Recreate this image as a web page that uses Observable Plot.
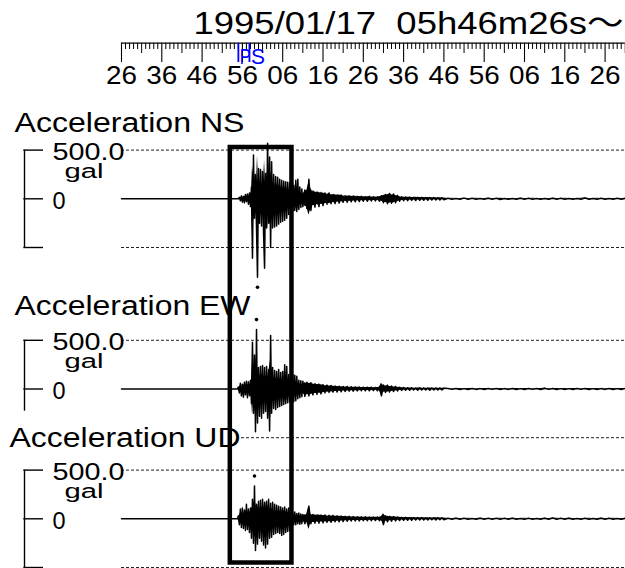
<!DOCTYPE html>
<html>
<head>
<meta charset="utf-8">
<script src="https://cdn.jsdelivr.net/npm/d3@7"></script>
<script src="https://cdn.jsdelivr.net/npm/@observablehq/plot@0.6"></script>
<style>
html, body { margin: 0; padding: 0; background: #fff; }
#chart svg text { white-space: pre; }
</style>
</head>
<body>
<div id="chart"></div>
<script>
// ---------------- data ----------------
const title = "1995/01/17  05h46m26s〜";
const channels = ["NS", "EW", "UD"];
const channelLabels = ["Acceleration NS", "Acceleration EW", "Acceleration UD"];
const scaleLabel = "500.0";
const unitLabel = "gal";
const zeroLabel = "0";
const fullScale = 500;              // gal, dotted reference lines
const duration = 125;               // seconds shown
const tickTimes = [0, 10, 20, 30, 40, 50, 60, 70, 80, 90, 100, 110, 120];
const tickLabels = ["26", "36", "46", "56", "06", "16", "26", "36", "46", "56", "06", "16", "26"];
const phaseTimes = [29.0, 31.75];
const phaseLabels = ["P", "S"];
const windowStart = 27.0, windowEnd = 42.3;

// waveform samples (gal): strong part from 28 s every 0.25 s,
// coda from 45.5 s every 0.5 s, tail from 81 s every 1 s
const strongStart = 28, strongStep = 0.25;
const codaStart = 45.5, codaStep = 0.5;
const tailStart = 81, tailStep = 1;

const nsStrong = [0,0,0,0,0,15,-20,30,-35,25,-40,45,-30,50,-55,60,-80,120,-610,450,-200,250,-300,-806,310,-250,300,-280,280,-350,-714,260,-300,570,-250,430,-500,380,-300,250,-290,230,-280,220,-260,200,-240,190,-230,180,-220,175,-200,170,-160,165,-140,150,-130,140,-120,190,-130,200,-110,120,-90,100,-80];
const nsCoda = [90,-100,200,-120,80,-85,70,-80,65,-70,60,-55,60,-50,45,-50,40,-45,40,-35,30,-35,30,-30,28,-30,25,-28,25,-25,22,-25,25,-22,20,-22,20,-25,30,-40,45,-50,55,-45,50,-40,35,-25,20,-20,18,-20,18,-15,15,-18,15,-15,15,-15,12,-15,12,-12,12,-12,10,-12,10,-10];
const nsTail = [5,-6,4,-5,7,-4,5,-6,4,-5,6,-4,5,-7,4,-5,4,-5,6,-4,5,-6,4,-5,4,-5,6,-4,5,-6,4,-5,4,-6,9,-5,4,-6,5,-4,4,-5,5,-4,5];

const ewStrong = [0,0,0,0,20,-40,60,-70,50,-85,70,-60,80,-90,75,-70,90,-150,480,-250,350,-440,610,-350,220,-280,230,-300,240,-250,220,-230,230,-300,200,-430,550,-250,220,-200,190,-210,180,-190,200,-180,170,-170,180,-160,250,-150,230,-140,150,-130,140,-140,150,-130,140,-120,130,-100,90,-90,85,-80,80];
const ewCoda = [-75,70,-70,65,-60,55,-55,50,-50,45,-40,40,-35,35,-32,30,-30,28,-28,25,-25,25,-22,22,-22,20,-20,20,-18,18,-18,18,-18,18,-16,16,-18,20,-70,40,-35,40,-30,30,-25,25,-20,18,-15,15,-12,12,-12,12,-10,10,-12,12,-10,10,-10,10,-12,10,-10,10,-10,9,-10,9];
const ewTail = [5,-4,6,-5,4,-6,5,-4,4,-6,5,-4,6,-5,4,-4,5,-6,4,-5,6,-4,5,-6,8,-4,5,-6,4,-5,4,-5,6,-4,5,-6,4,-5,4,-4,6,-5,4,-6,5];

const udStrong = [0,0,0,0,30,-60,100,-90,110,-100,90,-120,150,-110,100,-140,110,-200,200,-250,337,-326,150,-260,180,-200,190,-230,200,-270,170,-300,180,-260,200,-200,160,-190,170,-160,150,-150,140,-140,130,-150,120,-170,110,-160,120,-140,100,-130,110,-120,80,-70,60,-60,70,-60,55,-50,60,-55,50,-50,45];
const udCoda = [-50,45,130,-50,45,-45,40,-45,40,-40,40,-35,35,-35,35,-30,30,-30,28,-28,25,-25,25,-22,22,-22,20,-22,20,-20,20,-20,18,-20,18,-18,18,-20,25,-60,30,-30,25,-25,22,-22,18,-18,15,-15,15,-15,12,-15,12,-12,12,-12,12,-12,10,-12,10,-10,10,-12,10,-10,9,-10];
const udTail = [5,-5,6,-4,5,-6,4,-5,6,-4,5,-4,5,-6,5,-4,6,-5,4,-6,5,-4,4,-5,6,-4,8,-6,5,-4,6,-5,4,-4,5,-6,4,-5,6,-4,5,-6,4,-5,5];

const waveParts = {
  NS: [nsStrong, nsCoda, nsTail],
  EW: [ewStrong, ewCoda, ewTail],
  UD: [udStrong, udCoda, udTail]
};

// ---------------- layout ----------------
const W = 625, H = 568;
const x0px = 121, pxPerSec = 4.03;
const galPerPx = 500 / 48.7;
const basePx = { NS: 198.3, EW: 388.5, UD: 518.3 };
const labelBase = { NS: 131.7, EW: 314.3, UD: 446.7 };
const labelLeft = { NS: 14, EW: 14, UD: 9 };
const labelWidth = { NS: 230, EW: 236, UD: 231 };
const tx = px => (px - x0px) / pxPerSec;   // pixel -> time
const gy = px => -px * galPerPx;            // pixel -> y value
const yv = (ch, v) => gy(basePx[ch]) + v;   // channel value -> y value
const bandShare = [0.55, 0.85, 0.85];       // share of each swing drawn as solid band, per part

function series(ch) {
  const [s, c, t] = waveParts[ch];
  const out = [{ t: 0, v: 0, part: 0 }];
  s.forEach((v, i) => out.push({ t: strongStart + i * strongStep, v, part: 0 }));
  c.forEach((v, i) => out.push({ t: codaStart + i * codaStep, v, part: 1 }));
  t.forEach((v, i) => out.push({ t: tailStart + i * tailStep, v, part: 2 }));
  return out;
}

const seconds = d3.range(0, duration + 1);
const minorSec = seconds.filter(s => s % 5 !== 0);
const midSec = seconds.filter(s => s % 5 === 0 && s % 10 !== 0);

const marks = [];

// time ruler
marks.push(Plot.ruleY([gy(42.7)], { x1: 0, x2: duration, stroke: "#000", strokeWidth: 1.3 }));
marks.push(Plot.ruleX(minorSec, { y1: gy(42.7), y2: gy(49), stroke: "#000", strokeWidth: 1 }));
marks.push(Plot.ruleX(midSec, { y1: gy(42.7), y2: gy(53), stroke: "#000", strokeWidth: 1 }));
marks.push(Plot.ruleX(tickTimes, { y1: gy(42.7), y2: gy(62), stroke: "#000", strokeWidth: 1.1 }));
marks.push(Plot.text(tickTimes, {
  x: d => d, y: gy(83.3), text: (d, i) => tickLabels[i],
  fontSize: 25.5, lineAnchor: "bottom", textAnchor: "middle", fill: "#000"
}));

// title
marks.push(Plot.text([title], {
  x: tx(623), y: gy(33.3), text: d => d, textAnchor: "end",
  lineAnchor: "bottom", fontSize: 32, fill: "#000"
}));

// P / S phase marks
marks.push(Plot.ruleX(phaseTimes, { y1: gy(43), y2: gy(62), stroke: "#0000ff", strokeWidth: 1.8 }));
marks.push(Plot.text(phaseTimes, {
  x: d => d, y: gy(63), text: (d, i) => phaseLabels[i], dx: 1.5,
  textAnchor: "start", lineAnchor: "bottom", fontSize: 22, fill: "#0000ff"
}));

channels.forEach((ch, k) => {
  // dotted full-scale lines
  marks.push(Plot.ruleY([yv(ch, fullScale), yv(ch, -fullScale)], {
    x1: 0, x2: duration, stroke: "#222", strokeWidth: 1, strokeDasharray: "3,2"
  }));
  // bracket
  marks.push(Plot.ruleX([tx(24)], { y1: yv(ch, fullScale), y2: yv(ch, -fullScale), stroke: "#000", strokeWidth: 1.4 }));
  marks.push(Plot.ruleY([yv(ch, fullScale), yv(ch, 0), yv(ch, -fullScale)], {
    x1: tx(23.3), x2: tx(43), stroke: "#000", strokeWidth: 1.4
  }));
  // scale texts
  marks.push(Plot.text([scaleLabel], {
    x: tx(52), y: yv(ch, fullScale) - 10 * galPerPx, text: d => d,
    textAnchor: "start", lineAnchor: "bottom", fontSize: 23.5, fill: "#000"
  }));
  marks.push(Plot.text([unitLabel], {
    x: tx(64), y: yv(ch, fullScale) - 27.5 * galPerPx, text: d => d,
    textAnchor: "start", lineAnchor: "bottom", fontSize: 20, fill: "#000"
  }));
  marks.push(Plot.text([zeroLabel], {
    x: tx(52), y: yv(ch, 0) - 10 * galPerPx, text: d => d,
    textAnchor: "start", lineAnchor: "bottom", fontSize: 23.5, fill: "#000"
  }));
});

// channel titles with white background
channels.forEach((ch, k) => {
  marks.push(Plot.rect([ch], {
    x1: tx(labelLeft[ch] - 2), x2: tx(labelLeft[ch] + labelWidth[ch] + 1),
    y1: gy(labelBase[ch] - 36), y2: gy(labelBase[ch] + 4), fill: "#fff"
  }));
  marks.push(Plot.text([channelLabels[k]], {
    x: tx(labelLeft[ch]), y: gy(labelBase[ch]), text: d => d,
    textAnchor: "start", lineAnchor: "bottom", fontSize: 27, fill: "#000"
  }));
});

// waveforms and peak dots
channels.forEach(ch => {
  const data = series(ch);
  marks.push(Plot.areaY(data, {
    x: "t",
    y1: d => yv(ch, -Math.abs(d.v) * bandShare[d.part]),
    y2: d => yv(ch, Math.abs(d.v) * bandShare[d.part]),
    fill: "#000", curve: "linear"
  }));
  marks.push(Plot.line(data, {
    x: "t", y: d => yv(ch, d.v), stroke: "#000", strokeWidth: 1.5, strokeLinejoin: "round"
  }));
  const peak = d3.greatest(data, d => Math.abs(d.v));
  marks.push(Plot.dot([peak], {
    x: "t", y: d => yv(ch, d.v), dy: peak.v > 0 ? -10 : 10, r: 1.8, fill: "#000", stroke: "none"
  }));
});

// highlighted time window
marks.push(Plot.rect([{}], {
  x1: windowStart, x2: windowEnd, y1: gy(147), y2: gy(562.5),
  fill: "none", stroke: "#000", strokeWidth: 4.5
}));

const chart = Plot.plot({
  width: W, height: H, margin: 0,
  x: { domain: [tx(0), tx(W)], range: [0, W], axis: null },
  y: { domain: [gy(0), gy(H)], range: [0, H], axis: null },
  style: { fontFamily: "'Liberation Sans', Arial, Helvetica, 'Noto Sans CJK JP', sans-serif", background: "#fff", overflow: "hidden" },
  marks
});
document.getElementById("chart").appendChild(chart);

// stretch texts to the widths seen in the reference
const widths = new Map([[title, 430], [scaleLabel, 72], [unitLabel, 39], ["P", 11], ["S", 14]]);
channels.forEach((ch, k) => widths.set(channelLabels[k], labelWidth[ch]));
tickLabels.forEach(l => widths.set(l, 31));
d3.select(chart).selectAll("text").each(function () {
  const w = widths.get(this.textContent);
  if (w) {
    this.setAttribute("textLength", w);
    this.setAttribute("lengthAdjust", "spacingAndGlyphs");
  }
});
</script>
</body>
</html>
